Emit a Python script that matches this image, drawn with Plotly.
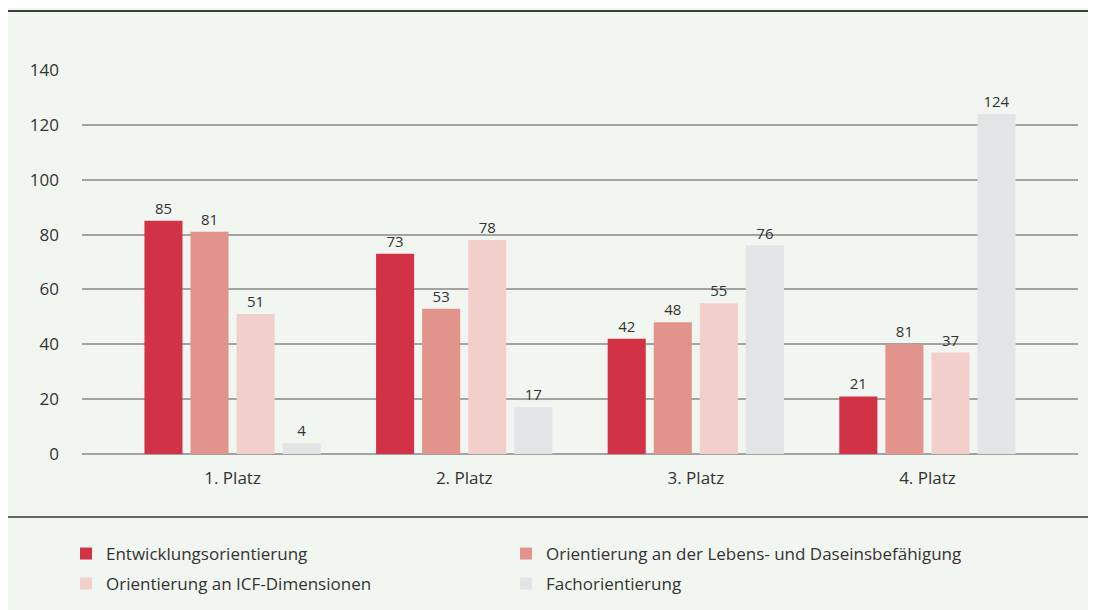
import plotly.graph_objects as go

categories = ["1. Platz", "2. Platz", "3. Platz", "4. Platz"]
series_names = [
    "Entwicklungsorientierung",
    "Orientierung an der Lebens- und Daseinsbefähigung",
    "Orientierung an ICF-Dimensionen",
    "Fachorientierung",
]
entwicklung = [85, 73, 42, 21]
lebens = [81, 53, 48, 40]
icf = [51, 78, 55, 37]
fach = [4, 17, 76, 124]
# value labels as printed in the chart
entwicklung_labels = ["85", "73", "42", "21"]
lebens_labels = ["81", "53", "48", "81"]
icf_labels = ["51", "78", "55", "37"]
fach_labels = ["4", "17", "76", "124"]
y_ticks = [0, 20, 40, 60, 80, 100, 120, 140]

colors = ["#d13245", "#e2938c", "#f2cfcb", "#e3e4e6"]
values = [entwicklung, lebens, icf, fach]
labels = [entwicklung_labels, lebens_labels, icf_labels, fach_labels]
legend_ids = ["legend", "legend2", "legend3", "legend4"]
# legend placement (container px): column x, row top y
legend_pos = [(58, 528), (498, 528), (58, 558), (498, 558)]

FONT = "Open Sans"
TXT = "#333333"
BG = "#f2f6f1"

W, H = 1096, 610
L, R, T, B = 74, 26, 62, 164
PW, PH = W - L - R, H - T - B

fig = go.Figure()
for name, vals, labs, col, lg in zip(series_names, values, labels, colors, legend_ids):
    fig.add_trace(go.Bar(
        x=categories, y=vals, name=name, marker_color=col, marker_line_width=0,
        text=labs, textposition="outside", cliponaxis=False,
        textfont=dict(family=FONT, size=15, color=TXT), legend=lg,
    ))

legends = {}
for lg, (lx, ly) in zip(legend_ids, legend_pos):
    legends[lg] = dict(
        orientation="h", xref="container", yref="container", xanchor="left", yanchor="top",
        x=lx / W, y=1 - ly / H, font=dict(family=FONT, size=17, color=TXT),
        bgcolor="rgba(0,0,0,0)",
    )

fig.update_layout(
    width=W, height=H,
    margin=dict(l=L, r=R, t=T, b=B, autoexpand=False),
    paper_bgcolor=BG, plot_bgcolor="rgba(0,0,0,0)",
    barmode="group", bargap=0.2045, bargroupgap=0.174,
    font=dict(family=FONT, size=17, color=TXT),
    showlegend=True,
    xaxis=dict(
        range=[-0.65, 3.65], showgrid=False, zeroline=False, showline=False,
        ticks="", tickfont=dict(family=FONT, size=17, color=TXT),
        ticklabelstandoff=12,
    ),
    yaxis=dict(
        range=[0, 140], tickvals=y_ticks, showgrid=True, gridcolor="#a3a3a3",
        gridwidth=1.5, zeroline=True, zerolinecolor="#a3a3a3", zerolinewidth=1.5,
        showline=False, ticks="", tickfont=dict(family=FONT, size=17, color=TXT),
        ticklabelstandoff=22,
    ),
    shapes=[
        dict(type="line", xref="paper", yref="paper", x0=-L / PW, x1=(W - L) / PW,
             y0=(T + PH - 3) / PH, y1=(T + PH - 3) / PH, line=dict(color="#000000", width=1.6)),
        dict(type="line", xref="paper", yref="paper", x0=-L / PW, x1=(W - L) / PW,
             y0=(T + PH - 509) / PH, y1=(T + PH - 509) / PH, line=dict(color="#333333", width=1.3)),
    ],
    **legends,
)

fig.write_html("out.html")
